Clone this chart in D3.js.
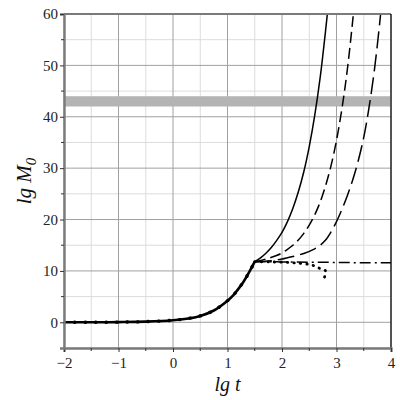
<!DOCTYPE html>
<html>
<head>
<meta charset="utf-8">
<script src="https://cdn.jsdelivr.net/npm/d3@7"></script>
<style>
  body { margin: 0; background: #fff; }
  svg { display: block; }
  text { font-family: "Liberation Serif", "Times New Roman", serif; }
</style>
</head>
<body>
<div id="chart"></div>
<script>
// common start of all curves (lg t from -2 to 1.5)
var baseT = [-2, -1.5, -1, -0.5, 0, 0.25, 0.5, 0.75, 1.0, 1.1, 1.2, 1.3, 1.4, 1.5];
var baseM = [0.0, 0.01, 0.04, 0.13, 0.4, 0.7, 1.25, 2.3, 4.2, 5.2, 6.5, 8.0, 9.8, 11.8];

// branches after the knee
var solidT = [1.6, 1.7, 1.8, 1.9, 2.0, 2.1, 2.2, 2.3, 2.4, 2.5, 2.6, 2.7, 2.8, 2.86];
var solidM = [12.5, 13.4, 14.5, 15.9, 17.5, 19.6, 22.2, 25.4, 29.3, 34.2, 40.2, 47.6, 56.8, 63];

var dashT = [1.7, 1.9, 2.0, 2.1, 2.2, 2.3, 2.4, 2.5, 2.6, 2.7, 2.8, 2.9, 3.0, 3.1, 3.2, 3.3, 3.35];
var dashM = [12.3, 13.0, 13.5, 14.2, 15.0, 16.0, 17.3, 18.9, 20.9, 23.4, 26.6, 30.5, 35.4, 41.6, 49.3, 59.0, 64.7];

var longT = [1.8, 2.0, 2.2, 2.4, 2.6, 2.7, 2.8, 2.9, 3.0, 3.1, 3.2, 3.3, 3.4, 3.5, 3.6, 3.7, 3.8, 3.85];
var longM = [12.0, 12.3, 12.8, 13.4, 14.3, 15.0, 16.0, 17.6, 19.6, 22.0, 24.7, 27.8, 31.5, 36.0, 42.0, 49.5, 59.0, 64.5];

var dashDotT = [2.0, 2.5, 3.0, 3.5, 4.0];
var dashDotM = [11.75, 11.7, 11.65, 11.6, 11.6];

var dotT = [1.8, 2.1, 2.3, 2.5, 2.6, 2.7, 2.8, 2.79, 2.77, 2.76];
var dotM = [11.75, 11.65, 11.5, 11.25, 10.95, 10.45, 10.0, 9.2, 8.4, 7.8];

// shaded level band
var bandLow = 42, bandHigh = 44;

var xTicks = [-2, -1, 0, 1, 2, 3, 4];
var yTicks = [0, 10, 20, 30, 40, 50, 60];

var width = 400, height = 400;
var serif = "'Liberation Serif', 'Times New Roman', serif";

var x = d3.scaleLinear().domain([-2, 4]).range([64, 391]);
var y = d3.scaleLinear().domain([-5, 60]).range([348, 14]);

var svg = d3.select("#chart").append("svg")
    .attr("width", width)
    .attr("height", height);

// grid: minor then major
var xMinor = d3.range(-1.5, 4, 1);
var yMinor = d3.range(-5, 60, 10);

svg.append("g").selectAll("line")
    .data(xMinor)
    .enter().append("line")
    .attr("x1", function (d) { return x(d); })
    .attr("x2", function (d) { return x(d); })
    .attr("y1", y(-5)).attr("y2", y(60))
    .attr("stroke", "#dcdcdc").attr("stroke-width", 1);

svg.append("g").selectAll("line")
    .data(yMinor)
    .enter().append("line")
    .attr("y1", function (d) { return y(d); })
    .attr("y2", function (d) { return y(d); })
    .attr("x1", x(-2)).attr("x2", x(4))
    .attr("stroke", "#dcdcdc").attr("stroke-width", 1);

svg.append("g").selectAll("line")
    .data(xTicks)
    .enter().append("line")
    .attr("x1", function (d) { return x(d); })
    .attr("x2", function (d) { return x(d); })
    .attr("y1", y(-5)).attr("y2", y(60))
    .attr("stroke", "#a0a0a0").attr("stroke-width", 1);

svg.append("g").selectAll("line")
    .data(yTicks)
    .enter().append("line")
    .attr("y1", function (d) { return y(d); })
    .attr("y2", function (d) { return y(d); })
    .attr("x1", x(-2)).attr("x2", x(4))
    .attr("stroke", "#a0a0a0").attr("stroke-width", 1);

// gray band
svg.append("rect")
    .attr("x", x(-2) + 1)
    .attr("y", y(bandHigh))
    .attr("width", x(4) - x(-2) - 2)
    .attr("height", y(bandLow) - y(bandHigh))
    .attr("fill", "#b4b4b4");

// curves
var line = d3.line()
    .x(function (d) { return x(d[0]); })
    .y(function (d) { return y(d[1]); })
    .curve(d3.curveCatmullRom);

function pts(ts, ms) {
    return ts.map(function (t, i) { return [t, ms[i]]; });
}

var basePts = pts(baseT, baseM);
var knee = basePts[basePts.length - 1];

svg.append("defs").append("clipPath").attr("id", "clip")
    .append("rect")
    .attr("x", x(-2)).attr("y", y(60))
    .attr("width", x(4) - x(-2)).attr("height", y(-5) - y(60));

var g = svg.append("g").attr("clip-path", "url(#clip)");

var series = [
    { t: solidT, m: solidM, dash: null, w: 1.5 },
    { t: dashT, m: dashM, dash: "11,5", w: 1.5 },
    { t: longT, m: longM, dash: "17,6", w: 1.5 },
    { t: dashDotT, m: dashDotM, dash: "11,4,2,4", w: 1.5 },
    { t: dotT, m: dotM, dash: "0.5,6", w: 2.8 }
];

g.append("path")
    .attr("d", line(basePts))
    .attr("fill", "none")
    .attr("stroke", "#000")
    .attr("stroke-width", 2.6);

series.forEach(function (s) {
    g.append("path")
        .attr("d", line([knee].concat(pts(s.t, s.m))))
        .attr("fill", "none")
        .attr("stroke", "#000")
        .attr("stroke-width", s.w)
        .attr("stroke-linecap", s.dash && s.w > 2 ? "round" : "butt")
        .attr("stroke-dasharray", s.dash);
});

// dotted marks along the common part too
g.append("path")
    .attr("d", line(basePts))
    .attr("fill", "none")
    .attr("stroke", "#000")
    .attr("stroke-width", 3.4)
    .attr("stroke-linecap", "round")
    .attr("stroke-dasharray", "0.5,10");

// frame
svg.append("line")
    .attr("x1", x(-2)).attr("x2", x(4))
    .attr("y1", y(60)).attr("y2", y(60))
    .attr("stroke", "#7a7a7a").attr("stroke-width", 2);
svg.append("line")
    .attr("x1", x(4)).attr("x2", x(4))
    .attr("y1", y(60)).attr("y2", y(-5))
    .attr("stroke", "#000").attr("stroke-width", 1.2);

var xAxis = d3.axisBottom(x).tickValues(xTicks).tickSize(4).tickPadding(5)
    .tickFormat(function (d) { return d < 0 ? "\u2212" + Math.abs(d) : d; });
var yAxis = d3.axisLeft(y).tickValues(yTicks).tickSize(4).tickPadding(2);

var gx = svg.append("g").attr("transform", "translate(0," + y(-5) + ")").call(xAxis);
var gy = svg.append("g").attr("transform", "translate(" + x(-2) + ",0)").call(yAxis);

[gx, gy].forEach(function (a) {
    a.attr("font-family", serif).attr("font-size", 15);
    a.select(".domain").attr("stroke", "#7a7a7a").attr("stroke-width", 2.4);
    a.selectAll(".tick line").attr("stroke", "#333");
    a.selectAll("text").attr("fill", "#222");
});

// minor ticks
svg.append("g").selectAll("line")
    .data(xMinor)
    .enter().append("line")
    .attr("x1", function (d) { return x(d); })
    .attr("x2", function (d) { return x(d); })
    .attr("y1", y(-5)).attr("y2", y(-5) + 3)
    .attr("stroke", "#333");
svg.append("g").selectAll("line")
    .data(yMinor.filter(function (d) { return d > -5; }))
    .enter().append("line")
    .attr("y1", function (d) { return y(d); })
    .attr("y2", function (d) { return y(d); })
    .attr("x1", x(-2) - 3).attr("x2", x(-2))
    .attr("stroke", "#333");

// axis titles
svg.append("text")
    .attr("x", (x(-2) + x(4)) / 2)
    .attr("y", 391)
    .attr("text-anchor", "middle")
    .attr("font-family", serif)
    .attr("font-style", "italic")
    .attr("font-size", 20)
    .attr("fill", "#111")
    .text("lg t");

var yt = svg.append("text")
    .attr("transform", "translate(31," + (y(-5) + y(60)) / 2 + ") rotate(-90)")
    .attr("text-anchor", "middle")
    .attr("font-family", serif)
    .attr("font-style", "italic")
    .attr("font-size", 21)
    .attr("fill", "#111");
yt.append("tspan").text("lg M");
yt.append("tspan").attr("dy", 5).attr("font-size", 15).text("0");
</script>
</body>
</html>
